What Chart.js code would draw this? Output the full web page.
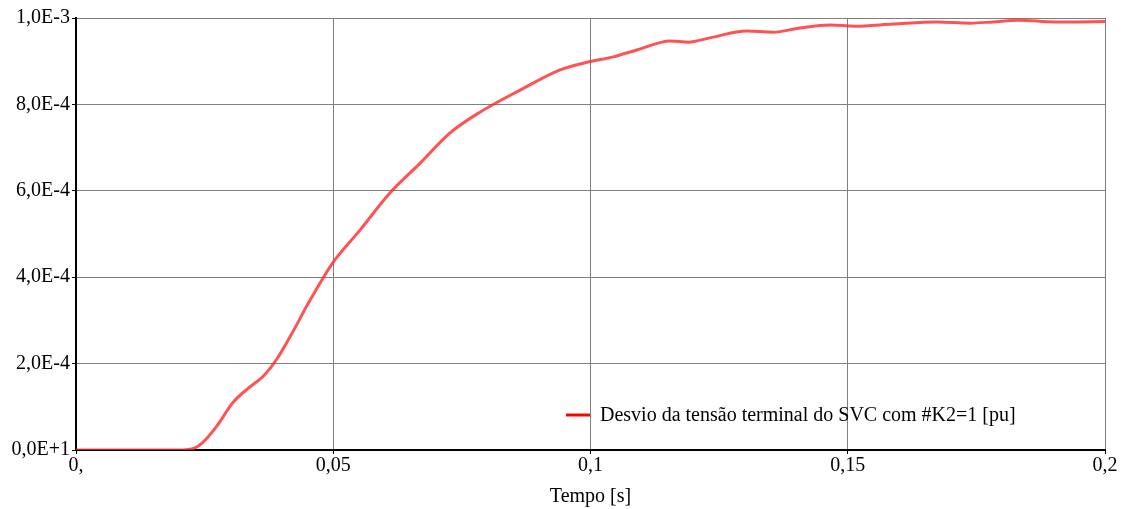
<!DOCTYPE html>
<html>
<head>
<meta charset="utf-8">
<script src="https://cdn.jsdelivr.net/npm/chart.js@4"></script>
<style>
  html, body { margin: 0; padding: 0; background: #fff; }
  #wrap { width: 1123px; height: 509px; }
</style>
</head>
<body>
<div id="wrap"><canvas id="myChart" width="1123" height="509"></canvas></div>
<script>
// tempo [s] e desvio da tensão terminal [pu]
var tempo = [0, 0.010, 0.020, 0.0231, 0.0245, 0.0274, 0.0305, 0.0338, 0.0365, 0.0390, 0.0416,
    0.0455, 0.050, 0.0552, 0.061, 0.0669, 0.0727, 0.0785, 0.0863, 0.0941, 0.0995, 0.1044,
    0.109, 0.1155, 0.119, 0.1232, 0.1304, 0.1355, 0.1407, 0.1466, 0.1514, 0.1588, 0.1673,
    0.1738, 0.1782, 0.1831, 0.1903, 0.1922, 0.2];
var desvio = [0, 0, 0, 0.000005, 0.000016, 0.000056, 0.000110, 0.000146, 0.000172, 0.000210, 0.000262,
    0.000347, 0.000435, 0.000509, 0.000595, 0.000664, 0.000734, 0.000782, 0.000833, 0.000880, 0.000898, 0.000910,
    0.000926, 0.000947, 0.000944, 0.000954, 0.000970, 0.000967, 0.000977, 0.000984, 0.000981, 0.000986, 0.000991,
    0.000988, 0.000991, 0.000995, 0.000991, 0.000991, 0.000992];

var xTicks = [0, 0.05, 0.1, 0.15, 0.2];
var xLabels = ['0,', '0,05', '0,1', '0,15', '0,2'];
var yTicks = [0, 0.0002, 0.0004, 0.0006, 0.0008, 0.001];
var yLabels = ['0,0E+1', '2,0E-4', '4,0E-4', '6,0E-4', '8,0E-4', '1,0E-3'];

var serieNome = 'Desvio da tensão terminal do SVC com #K2=1 [pu]';
var fonte = 'Liberation Serif';

var pontos = tempo.map(function (t, i) { return { x: t, y: desvio[i] }; });

function rotulo(valores, textos) {
    return function (v) {
        for (var i = 0; i < valores.length; i++) {
            if (Math.abs(valores[i] - v) < 1e-9) return textos[i];
        }
        return '';
    };
}

// legenda desenhada dentro da área do gráfico, canto inferior direito
var legendaInterna = {
    id: 'legendaInterna',
    afterDatasetsDraw: function (chart) {
        var ctx = chart.ctx;
        var a = chart.chartArea;
        ctx.save();
        ctx.font = '20px "' + fonte + '"';
        ctx.fillStyle = '#000';
        ctx.textBaseline = 'middle';
        var y = a.bottom - 35;
        ctx.strokeStyle = '#ff0000';
        ctx.lineWidth = 3;
        ctx.beginPath();
        ctx.moveTo(566, y);
        ctx.lineTo(590, y);
        ctx.stroke();
        ctx.fillText(serieNome, 600, y + 1);
        ctx.restore();
    }
};

var ctx = document.getElementById('myChart').getContext('2d');
var myChart = new Chart(ctx, {
    type: 'line',
    data: {
        datasets: [{
            label: serieNome,
            data: pontos,
            borderColor: 'rgba(255, 40, 40, 0.8)',
            borderWidth: 3,
            pointRadius: 0,
            fill: false,
            cubicInterpolationMode: 'monotone'
        }]
    },
    options: {
        responsive: false,
        animation: false,
        layout: { padding: { top: 18, right: 18, left: 0, bottom: 0 } },
        plugins: {
            legend: { display: false },
            tooltip: { enabled: false }
        },
        scales: {
            x: {
                type: 'linear',
                min: 0,
                max: 0.2,
                afterBuildTicks: function (s) { s.ticks = xTicks.map(function (v) { return { value: v }; }); },
                afterFit: function (s) { s.height = 59; },
                ticks: {
                    color: '#000',
                    font: { family: fonte, size: 20 },
                    padding: 0,
                    maxRotation: 0,
                    callback: rotulo(xTicks, xLabels)
                },
                grid: { color: '#808080', lineWidth: 1, tickLength: 4, tickColor: '#000' },
                border: { color: '#000', width: 2 },
                title: {
                    display: true,
                    text: 'Tempo [s]',
                    color: '#000',
                    font: { family: fonte, size: 20 },
                    padding: { top: 0, bottom: 0 }
                }
            },
            y: {
                min: 0,
                max: 0.001,
                afterBuildTicks: function (s) { s.ticks = yTicks.map(function (v) { return { value: v }; }); },
                afterFit: function (s) { s.width = 76; },
                ticks: {
                    color: '#000',
                    font: { family: fonte, size: 20 },
                    padding: 2,
                    callback: rotulo(yTicks, yLabels)
                },
                grid: { color: '#808080', lineWidth: 1, tickLength: 4, tickColor: '#000' },
                border: { color: '#000', width: 2 }
            }
        }
    },
    plugins: [legendaInterna]
});
</script>
</body>
</html>
